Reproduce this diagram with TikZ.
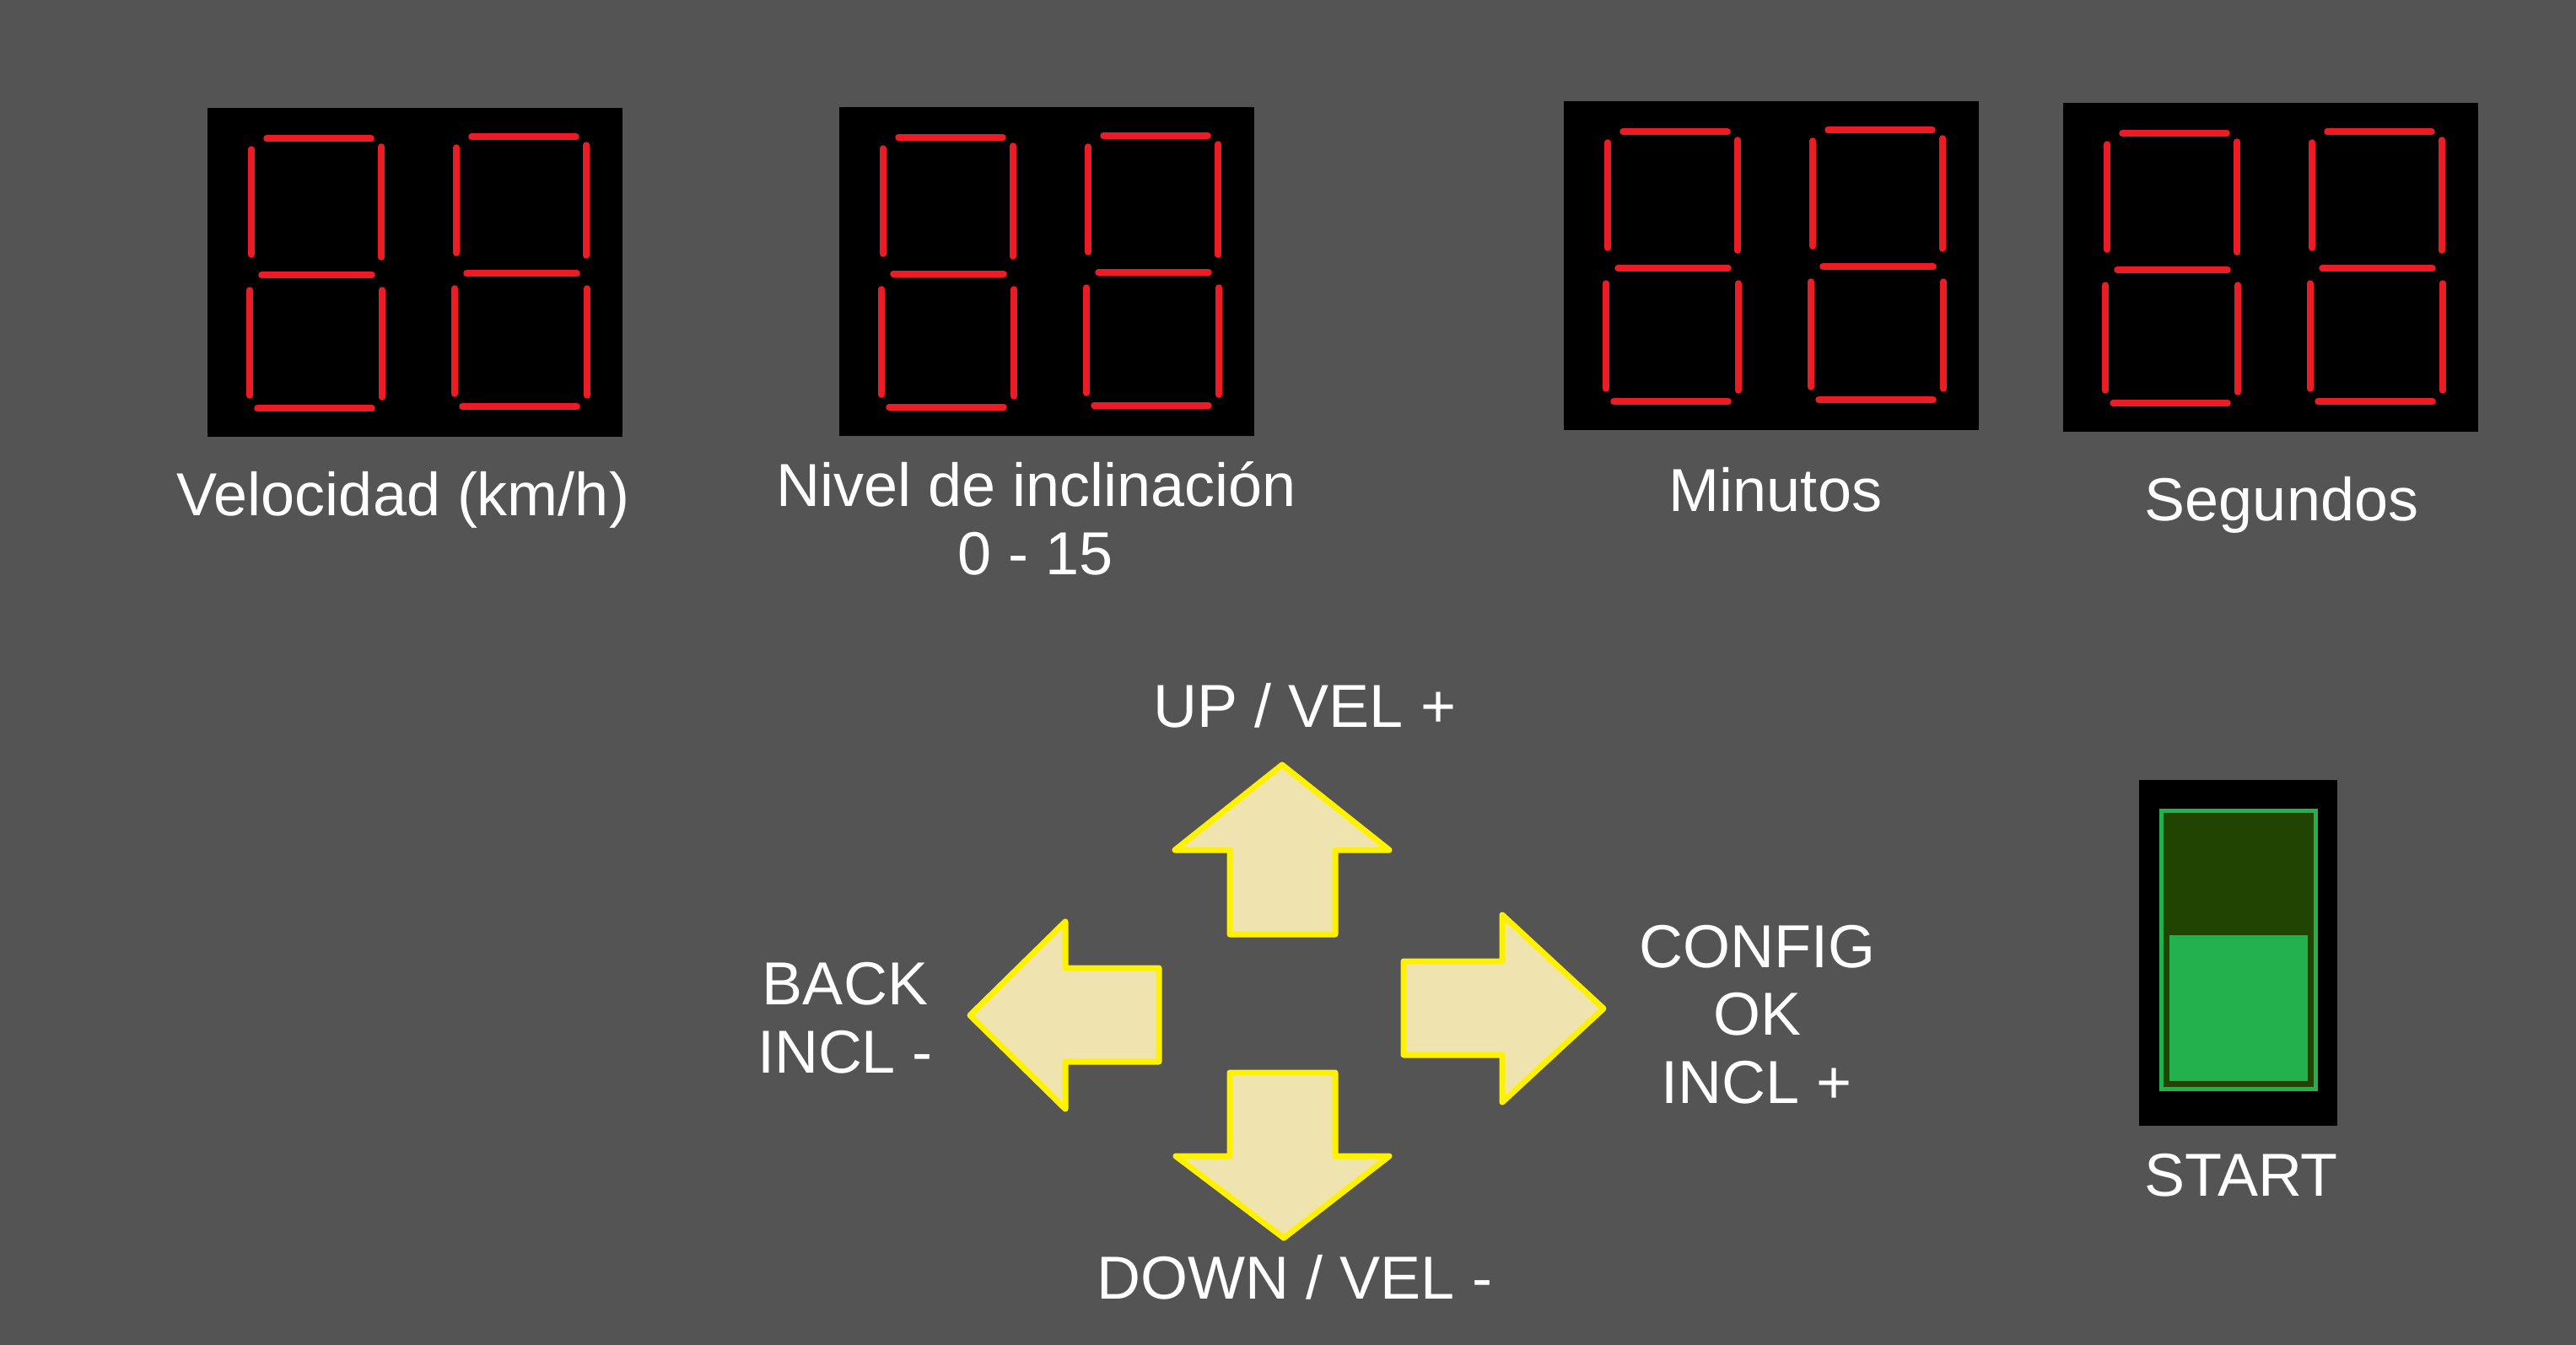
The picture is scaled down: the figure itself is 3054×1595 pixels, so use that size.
\documentclass[tikz,border=0pt]{standalone}
\usepackage{fontspec}
\setmainfont{Liberation Sans}
\definecolor{bgcol}{HTML}{545454}
\definecolor{segred}{HTML}{ED1C24}
\definecolor{arrowfill}{HTML}{EFE4B0}
\definecolor{arrowedge}{HTML}{FFF200}
\definecolor{swgreen}{HTML}{22B14C}
\definecolor{swdark}{HTML}{224403}
\newcommand{\segdigit}[2]{%
  \begin{scope}[shift={(#1,#2)}]
    \draw[seg] (70,36)--(194,36);
    \draw[seg] (52,49)--(52,174);
    \draw[seg] (206,46)--(206,177);
    \draw[seg] (64,198)--(195,198);
    \draw[seg] (50,216)--(50,341);
    \draw[seg] (207,216)--(207,343);
    \draw[seg] (59,356)--(195,356);
  \end{scope}}
\newcommand{\twodigits}[2]{\segdigit{#1}{#2}\segdigit{#1+243}{#2-2}}
\begin{document}
\begin{tikzpicture}[x=0.25pt,y=-0.25pt,
  seg/.style={draw=segred,line width=1.875pt,line cap=round},
  panel/.style={fill=black,draw=none,inner sep=0,outer sep=0,anchor=north west,minimum width=123pt,minimum height=97.5pt},
  lbl/.style={text=white,inner sep=0,anchor=base,font=\fontsize{18pt}{20.25pt}\selectfont},
  keyarrow/.style={fill=arrowfill,draw=arrowedge,line width=1.75pt,line join=round}]
\useasboundingbox (0,0) rectangle (3054,1595);
\fill[bgcol] (0,0) rectangle (3054,1595);

% display panels
\node[panel] (pvel) at (246,128) {};
\node[panel] (pinc) at (995,127) {};
\node[panel] (pmin) at (1854,120) {};
\node[panel] (pseg) at (2446,122) {};
\twodigits{246}{128}
\twodigits{995}{127}
\twodigits{1854}{120}
\twodigits{2446}{122}

% panel labels
\node[lbl] (lvel) at (478,611) {Velocidad (km/h)};
\node[lbl] (linc1) at (1229,600) {Nivel de inclinación};
\node[lbl] (linc2) at (1228,681) {0 - 15};
\node[lbl] (lmin) at (2105,606) {Minutos};
\node[lbl] (lseg) at (2705,617) {Segundos};

% arrow keys
\draw[keyarrow] (1520,907) -- (1647,1008) -- (1583,1008) -- (1583,1108) -- (1458,1108) -- (1458,1008) -- (1393,1008) -- cycle;
\draw[keyarrow] (1522,1468) -- (1647,1371) -- (1583,1371) -- (1583,1272) -- (1458,1272) -- (1458,1371) -- (1394,1371) -- cycle;
\draw[keyarrow] (1150,1204) -- (1263,1093) -- (1263,1148) -- (1374,1148) -- (1374,1259) -- (1263,1259) -- (1263,1315) -- cycle;
\draw[keyarrow] (1901,1196) -- (1781,1085) -- (1781,1140) -- (1664,1140) -- (1664,1251) -- (1781,1251) -- (1781,1307) -- cycle;

% arrow labels
\node[lbl] (lup) at (1547,862) {UP / VEL +};
\node[lbl] (lback1) at (1002,1191) {BACK};
\node[lbl] (lback2) at (1002,1272) {INCL -};
\node[lbl] (lcfg1) at (2083,1147) {CONFIG};
\node[lbl] (lcfg2) at (2083,1227) {OK};
\node[lbl] (lcfg3) at (2083,1308) {INCL +};
\node[lbl] (ldown) at (1535,1540) {DOWN / VEL -};

% start switch
\fill[black] (2536,925) rectangle (2771,1335);
\draw[draw=swgreen,fill=swdark,line width=1.25pt] (2562.5,961.5) rectangle (2745.5,1291.5);
\fill[swgreen] (2572,1109) rectangle (2736,1282);
\node[lbl] (lstart) at (2657,1418) {START};
\end{tikzpicture}
\end{document}
